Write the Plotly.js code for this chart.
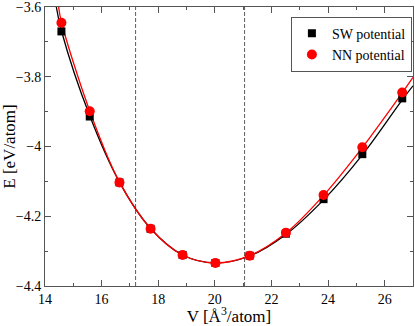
<!DOCTYPE html>
<html>
<head>
<script src="https://cdn.plot.ly/plotly-3.0.1.min.js"></script>
<style>body{margin:0;background:#fff}</style>
</head>
<body>
<div id="myDiv" style="width:415px;height:326px"></div>
<script>
// data points
var volume = [14.58, 15.58, 16.63, 17.73, 18.86, 20.02, 21.23, 22.51, 23.84, 25.21, 26.62];
var swEnergy = [-3.670, -3.914, -4.103, -4.236, -4.311, -4.334, -4.313, -4.250, -4.151, -4.022, -3.862];
var nnEnergy = [-3.645, -3.899, -4.103, -4.236, -4.311, -4.334, -4.313, -4.247, -4.139, -4.002, -3.845];

// fitted curves, sampled from the figure
var swFitV = [14.40, 14.58, 15.58, 16.63, 17.73, 18.86, 20.02, 21.23, 22.51, 23.84, 25.21, 26.62, 27.0];
var swFitE = [-3.600, -3.668, -3.912, -4.102, -4.235, -4.311, -4.334, -4.314, -4.252, -4.153, -4.024, -3.866, -3.826];
var nnFitV = [14.48, 14.58, 15.58, 16.63, 17.73, 18.86, 20.02, 21.23, 22.51, 23.84, 25.21, 26.62, 27.0];
var nnFitE = [-3.600, -3.643, -3.898, -4.102, -4.235, -4.311, -4.334, -4.313, -4.248, -4.140, -4.003, -3.846, -3.802];

var dashV = [17.2, 21.05];

var serif = 'Liberation Serif';

var trace1 = {
  x: swFitV, y: swFitE, mode: 'lines', type: 'scatter',
  line: {color: 'black', width: 1.3, shape: 'spline'},
  showlegend: false, hoverinfo: 'skip'
};
var trace2 = {
  x: nnFitV, y: nnFitE, mode: 'lines', type: 'scatter',
  line: {color: 'red', width: 1.3, shape: 'spline'},
  showlegend: false, hoverinfo: 'skip'
};
var trace3 = {
  x: volume, y: swEnergy, mode: 'markers', type: 'scatter',
  name: 'SW potential',
  marker: {symbol: 'square', color: 'black', size: 8}
};
var trace4 = {
  x: volume, y: nnEnergy, mode: 'markers', type: 'scatter',
  name: 'NN potential',
  marker: {symbol: 'circle', color: 'red', size: 10}
};

var shapes = dashV.map(function(v){
  return {type: 'line', xref: 'x', yref: 'paper', x0: v, x1: v, y0: 0, y1: 1,
          line: {color: '#333', width: 0.8, dash: '4px,2px'}, layer: 'below'};
});

var axisCommon = {
  showline: true, linecolor: '#555', linewidth: 1, mirror: 'allticks',
  ticks: 'inside', ticklen: 6, tickcolor: '#555', tickwidth: 1,
  showgrid: false, zeroline: false, ticklabeloverflow: 'allow',
  tickfont: {family: serif, size: 14, color: 'black'}
};

var layout = {
  width: 415, height: 326,
  margin: {l: 45, r: 2, t: 7, b: 40},
  paper_bgcolor: 'white', plot_bgcolor: 'white',
  showlegend: true,
  legend: {
    x: 0.997, y: 0.965, xanchor: 'right', yanchor: 'top',
    bordercolor: '#555', borderwidth: 1, bgcolor: 'white',
    font: {family: serif, size: 14, color: 'black'},
    itemwidth: 30, tracegroupgap: 0
  },
  xaxis: Object.assign({}, axisCommon, {
    range: [14, 27], dtick: 2, tick0: 14,
    minor: {dtick: 1, ticklen: 3, ticks: 'inside', tickcolor: '#555'},
    title: {text: 'V [Å<sup>3</sup>/atom]', font: {family: serif, size: 17, color: 'black'}, standoff: 6}
  }),
  yaxis: Object.assign({}, axisCommon, {
    range: [-4.4, -3.6], dtick: 0.2, tick0: -4.4,
    minor: {dtick: 0.1, ticklen: 3, ticks: 'inside', tickcolor: '#555'},
    title: {text: 'E [eV/atom]', font: {family: serif, size: 17, color: 'black'}, standoff: 6}
  }),
  shapes: shapes
};

Plotly.newPlot('myDiv', [trace1, trace2, trace3, trace4], layout, {displayModeBar: false});
</script>
</body>
</html>
